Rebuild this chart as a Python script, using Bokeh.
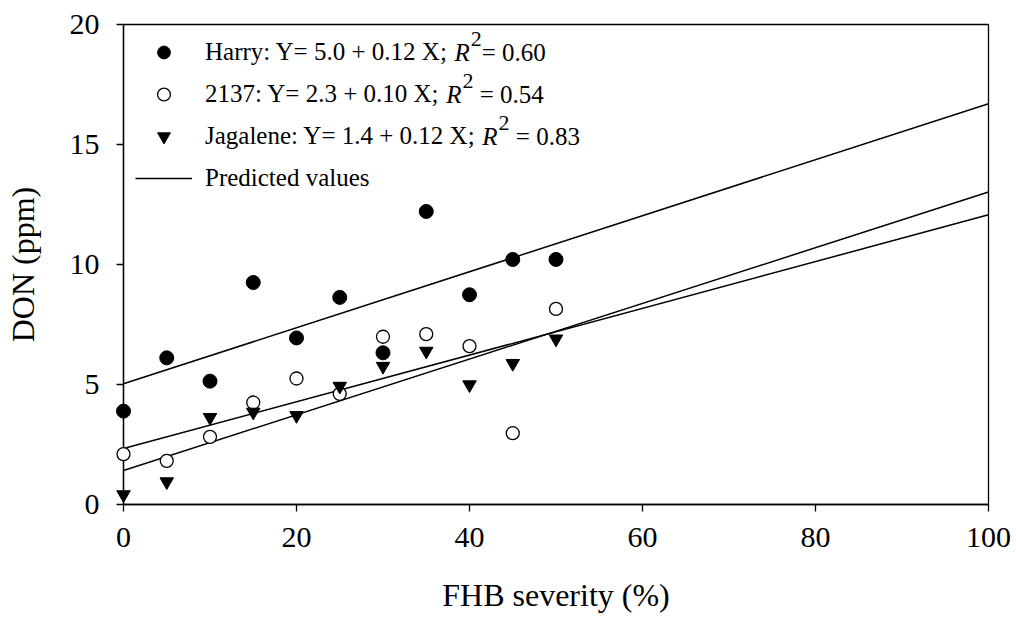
from bokeh.plotting import figure
from bokeh.models import Range1d, Legend, LegendItem, Label, FixedTicker
from bokeh.embed import file_html
from bokeh.resources import INLINE

# FHB severity (%) and DON (ppm) per cultivar
severity = [0, 5, 10, 15, 20, 25, 30, 35, 40, 45, 50]
harry = [3.89, 6.11, 5.14, 9.25, 6.94, 8.63, 6.32, 12.21, 8.74, 10.21, 10.21]
c2137 = [2.10, 1.82, 2.82, 4.25, 5.25, 4.61, 6.99, 7.10, 6.60, 2.97, 8.15]
jagalene = [0.41, 0.95, 3.63, 3.85, 3.71, 4.93, 5.76, 6.39, 4.99, 5.88, 6.90]

# regression fits: (intercept, slope, R^2)
cultivars = ["Harry", "2137", "Jagalene"]
intercepts = [5.03, 2.33, 1.42]
slopes = [0.1167, 0.0974, 0.116]
r_squared = [0.60, 0.54, 0.83]
r2_gap = [False, True, True]
fit_x = [0, 100]

x_ticks = [0, 20, 40, 60, 80, 100]
y_ticks = [0, 5, 10, 15, 20]

FONT = "Liberation Serif, Times New Roman, serif"
LEG_SIZE = 25

# Times/Liberation Serif advance widths (1/1000 em)
ADV = {' ': 250, ':': 278, ';': 278, '=': 564, '+': 564, '.': 250,
       'H': 722, 'a': 444, 'r': 333, 'y': 500, 'Y': 722, 'X': 722,
       'J': 389, 'g': 500, 'l': 278, 'e': 444, 'n': 500}


def text_width(s, size):
    return sum(ADV.get(c, 500) for c in s) * size / 1000.0


p = figure(width=1016, height=627, output_backend="svg", toolbar_location=None,
           x_range=Range1d(0, 100), y_range=Range1d(0, 20),
           min_border_left=123, min_border_right=28,
           min_border_top=24, min_border_bottom=123)

p.xgrid.visible = False
p.ygrid.visible = False
p.outline_line_color = "black"
p.outline_line_width = 1.3
p.background_fill_color = "white"
p.border_fill_color = "white"

p.xaxis.ticker = FixedTicker(ticks=x_ticks)
p.yaxis.ticker = FixedTicker(ticks=y_ticks)
p.xaxis.axis_label = "FHB severity (%)"
p.yaxis.axis_label = "DON (ppm)"

for axes in (p.xaxis, p.yaxis):
    axes.axis_line_color = "black"
    axes.axis_line_width = 1.3
    axes.major_tick_line_color = "black"
    axes.major_tick_line_width = 1.3
    axes.major_tick_in = 0
    axes.major_tick_out = 7
    axes.minor_tick_in = 0
    axes.minor_tick_out = 0
    axes.major_label_text_font = FONT
    axes.major_label_text_font_size = "30px"
    axes.major_label_text_color = "black"
    axes.axis_label_text_font = FONT
    axes.axis_label_text_font_size = "32px"
    axes.axis_label_text_font_style = "normal"
    axes.axis_label_text_color = "black"

p.xaxis.major_label_standoff = 16
p.yaxis.major_label_standoff = 17
p.xaxis.axis_label_standoff = 27
p.yaxis.axis_label_standoff = 26

# predicted values from each fit
fit_lines = []
for a, b in zip(intercepts, slopes):
    fit_y = [a + b * x for x in fit_x]
    fit_lines.append(p.line(fit_x, fit_y, line_color="black", line_width=1.5))

r_harry = p.scatter(severity, harry, marker="circle", size=14,
                    fill_color="black", line_color="black", level="overlay")
r_2137 = p.scatter(severity, c2137, marker="circle", size=13,
                   fill_color="white", line_color="black", line_width=1.3,
                   level="overlay")
r_jag = p.scatter(severity, jagalene, marker="inverted_triangle", size=13.5,
                  fill_color="black", line_color="black", level="overlay")

prefixes = ["%s: Y= %.1f + %.2f X; " % (n, a, b)
            for n, a, b in zip(cultivars, intercepts, slopes)]

items = [LegendItem(label=prefixes[0], renderers=[r_harry]),
         LegendItem(label=prefixes[1], renderers=[r_2137]),
         LegendItem(label=prefixes[2], renderers=[r_jag]),
         LegendItem(label="Predicted values", renderers=[fit_lines[0]])]

MARGIN = 12
GLYPH_W = 57
STANDOFF = 13
ROW_H = 32
SPACING = 10

legend = Legend(items=items, location="top_left", margin=MARGIN, padding=0,
                spacing=SPACING, glyph_width=GLYPH_W, glyph_height=ROW_H,
                label_height=ROW_H, label_standoff=STANDOFF,
                label_text_font=FONT, label_text_font_size="%dpx" % LEG_SIZE,
                label_text_color="black",
                border_line_alpha=0, background_fill_alpha=0)
p.add_layout(legend)

# italic R with superscript 2 and the R^2 value after each equation
frame_h = 627 - 24 - 123
label_x0 = MARGIN + GLYPH_W + STANDOFF
for i, (pre, r2, gap) in enumerate(zip(prefixes, r_squared, r2_gap)):
    yc = frame_h - (MARGIN + ROW_H / 2 + i * (ROW_H + SPACING))
    xr = label_x0 + text_width(pre, LEG_SIZE)
    p.add_layout(Label(x=xr, y=yc, x_units="screen", y_units="screen",
                       text="R", text_font=FONT, text_font_style="italic",
                       text_font_size="%dpx" % LEG_SIZE, text_baseline="middle",
                       text_color="black"))
    x2 = xr + 611 * LEG_SIZE / 1000.0 + 1
    p.add_layout(Label(x=x2, y=yc + 14, x_units="screen", y_units="screen",
                       text="2", text_font=FONT, text_font_size="22px",
                       text_baseline="middle", text_color="black"))
    x3 = x2 + 11 + (text_width(" ", LEG_SIZE) if gap else 0)
    p.add_layout(Label(x=x3, y=yc, x_units="screen", y_units="screen",
                       text="= %.2f" % r2, text_font=FONT,
                       text_font_size="%dpx" % LEG_SIZE, text_baseline="middle",
                       text_color="black"))

open("out.html", "w").write(file_html(p, INLINE))
